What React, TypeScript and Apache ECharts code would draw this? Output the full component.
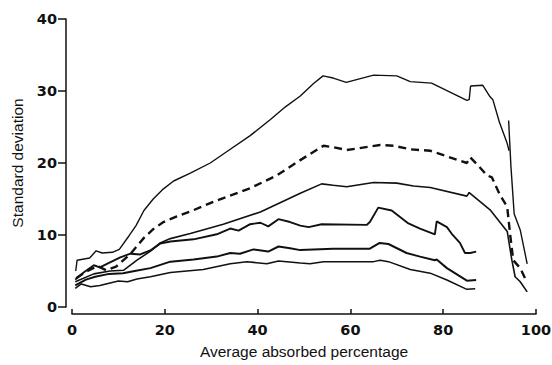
import React, { useEffect, useRef } from "react";
import * as echarts from "echarts";

const xTicks = [0, 20, 40, 60, 80, 100];
const yTicks = [0, 10, 20, 30, 40];

const curveTop: [number, number][] = [
  [0.8, 5.0], [1.1, 6.5], [3.8, 6.8], [5.2, 7.8], [6.5, 7.5], [8.7, 7.6], [10.2, 8.0],
  [12.3, 9.9], [13.8, 11.3], [15.5, 13.4], [17.5, 15.0], [19.5, 16.3], [21.9, 17.5],
  [25.5, 18.6], [29.8, 20.0], [33.4, 21.6], [38.4, 23.8], [42.7, 26.0], [46, 27.8],
  [49.2, 29.3], [52, 31], [54.1, 32.1], [56.3, 31.8], [59.1, 31.2], [65, 32.2], [70, 32.1],
  [72.9, 31.3], [77.5, 31.1], [85.1, 28.7], [85.6, 28.8], [85.9, 30.7], [88.5, 30.8],
  [90.1, 29.2], [90.7, 28.8], [92.1, 25.7], [93.8, 22.7], [94.2, 21.7],
];

const curveSpike: [number, number][] = [
  [94.1, 25.9], [94.6, 19.5], [95.3, 12.9], [96.6, 10.7], [98.1, 6.0],
];

const curveDashed: [number, number][] = [
  [0.9, 4.0], [3.0, 4.9], [5.5, 5.7], [7.4, 5.1], [9.5, 5.6], [12.5, 7.3], [15.5, 9.6],
  [17.5, 10.8], [19.7, 11.8], [22.6, 12.6], [26, 13.4], [31.2, 14.8], [38.4, 16.5],
  [44.2, 18.3], [49.2, 20.4], [54.2, 22.4], [56.3, 22.2], [59.2, 21.8], [66.4, 22.5],
  [69.3, 22.4], [72.9, 21.9], [77.2, 21.7], [85.1, 20.0], [85.8, 20.8], [87.6, 19.6],
  [89.4, 18.3], [90.5, 18.0], [92.2, 15.6], [93.8, 13.9], [94.4, 10.2], [95.1, 6.5],
  [96.6, 5.4], [98.0, 3.5],
];

const curveMid: [number, number][] = [
  [0.7, 3.5], [4.7, 4.6], [8.2, 5.0], [11.1, 5.1], [14, 6.5], [17, 7.8], [19, 8.9],
  [21.2, 9.5], [25.5, 10.2], [32.6, 11.5], [40.6, 13.2], [49.2, 15.8], [53.8, 17.1],
  [56.3, 16.9], [59.2, 16.7], [65, 17.3], [70, 17.2], [73.6, 16.8], [77.2, 16.6],
  [85.1, 15.4], [85.6, 15.9], [90.1, 13.5], [93.8, 10.5], [94.8, 6.5], [95.5, 4.2],
  [96.6, 3.5], [98.1, 2.1],
];

const curvePeak: [number, number][] = [
  [0.7, 3.8], [2.5, 4.8], [4.7, 5.8], [6, 5.5], [8.2, 6.2], [10.4, 6.9], [12.6, 7.4],
  [14.7, 7.3], [17, 7.9], [19, 8.8], [21.2, 9.1], [26.2, 9.4], [31.2, 10.1], [34.1, 10.9],
  [35.9, 10.6], [38.4, 11.5], [40.6, 11.7], [42.3, 11.2], [44.5, 12.2], [47, 11.8],
  [49.2, 11.3], [51, 11.1], [53.8, 11.5], [63.5, 11.4], [64.2, 11.8], [66.0, 13.8],
  [68.9, 13.4], [72.5, 11.6], [75, 10.9], [78.2, 10.1], [78.6, 11.9], [80.8, 11.1],
  [81.8, 10.2], [83.6, 8.9], [84.7, 7.5], [85.8, 7.5], [87.1, 7.7],
];

const curveLow: [number, number][] = [
  [0.7, 3.0], [3, 3.8], [5, 4.2], [8, 4.6], [11, 4.7], [13.5, 5.0], [16.9, 5.4],
  [21.2, 6.3], [26.2, 6.6], [31.2, 7.0], [34.1, 7.5], [36.2, 7.4], [39.1, 8.0],
  [42.3, 7.7], [44.5, 8.4], [47, 8.15], [49.2, 7.9], [56.3, 8.1], [64.2, 8.1],
  [66.3, 8.9], [68.2, 8.75], [72.1, 7.5], [75, 7.0], [78.2, 6.5], [78.6, 6.6],
  [80.8, 5.4], [85.1, 3.65], [87.1, 3.75],
];

const curveBottom: [number, number][] = [
  [0.7, 2.6], [2, 3.2], [4, 2.8], [6, 3.0], [8, 3.3], [10, 3.6], [12, 3.5], [14, 3.9],
  [16.9, 4.2], [21.2, 4.8], [28.3, 5.2], [34.1, 6.0], [37.7, 6.3], [42, 6.0], [44.5, 6.4],
  [49.2, 6.1], [51.3, 6.0], [54.2, 6.3], [65, 6.3], [66.4, 6.5], [68.2, 6.3], [72.9, 5.2],
  [77.2, 4.7], [80.8, 3.75], [85.1, 2.45], [86.9, 2.55],
];

export default function App() {
  const ref = useRef<HTMLDivElement>(null);
  useEffect(() => {
    if (!ref.current) return;
    const chart = echarts.init(ref.current, undefined, { renderer: "svg" });
    const line = (data: [number, number][], width: number, dashed = false) => ({
      type: "line",
      data,
      showSymbol: false,
      symbol: "none",
      smooth: false,
      lineStyle: {
        color: "#111",
        width,
        type: dashed ? [8, 5] : "solid",
      },
      z: 3,
    });
    chart.setOption({
      animation: false,
      backgroundColor: "#fff",
      grid: {
        left: 72,
        right: 16,
        top: 19,
        bottom: 58,
        containLabel: false,
        outerBoundsMode: "none",
      },
      xAxis: {
        type: "value",
        min: xTicks[0],
        max: xTicks[xTicks.length - 1],
        interval: 20,
        offset: 7,
        name: "Average absorbed percentage",
        nameLocation: "middle",
        nameGap: 29,
        nameTextStyle: { fontFamily: "Liberation Sans", fontSize: 15.5, color: "#111" },
        axisLine: { show: true, onZero: false, lineStyle: { color: "#111", width: 1.5 } },
        axisTick: { show: true, inside: true, length: 5, lineStyle: { color: "#111", width: 1.5 } },
        axisLabel: {
          margin: 8,
          fontFamily: "DejaVu Sans",
          fontWeight: "bold",
          fontSize: 14.5,
          color: "#111",
        },
        splitLine: { show: false },
      },
      yAxis: {
        type: "value",
        min: yTicks[0],
        max: yTicks[yTicks.length - 1],
        interval: 10,
        offset: 6,
        name: "Standard deviation",
        nameLocation: "middle",
        nameGap: 40,
        nameTextStyle: { fontFamily: "Liberation Sans", fontSize: 15.5, color: "#111" },
        axisLine: { show: true, onZero: false, lineStyle: { color: "#111", width: 1.5 } },
        axisTick: { show: true, inside: false, length: 8, lineStyle: { color: "#111", width: 1.5 } },
        axisLabel: {
          margin: 9,
          fontFamily: "DejaVu Sans",
          fontWeight: "bold",
          fontSize: 14.5,
          color: "#111",
        },
        splitLine: { show: false },
      },
      series: [
        line(curveTop, 1.4),
        line(curveSpike, 1.4),
        line(curveDashed, 2.4, true),
        line(curveMid, 1.6),
        line(curvePeak, 1.9),
        line(curveLow, 2.0),
        line(curveBottom, 1.5),
      ],
    });
    return () => chart.dispose();
  }, []);
  return (
    <div
      ref={ref}
      style={{ position: "fixed", left: 0, top: 0, width: 552, height: 365 }}
    />
  );
}
